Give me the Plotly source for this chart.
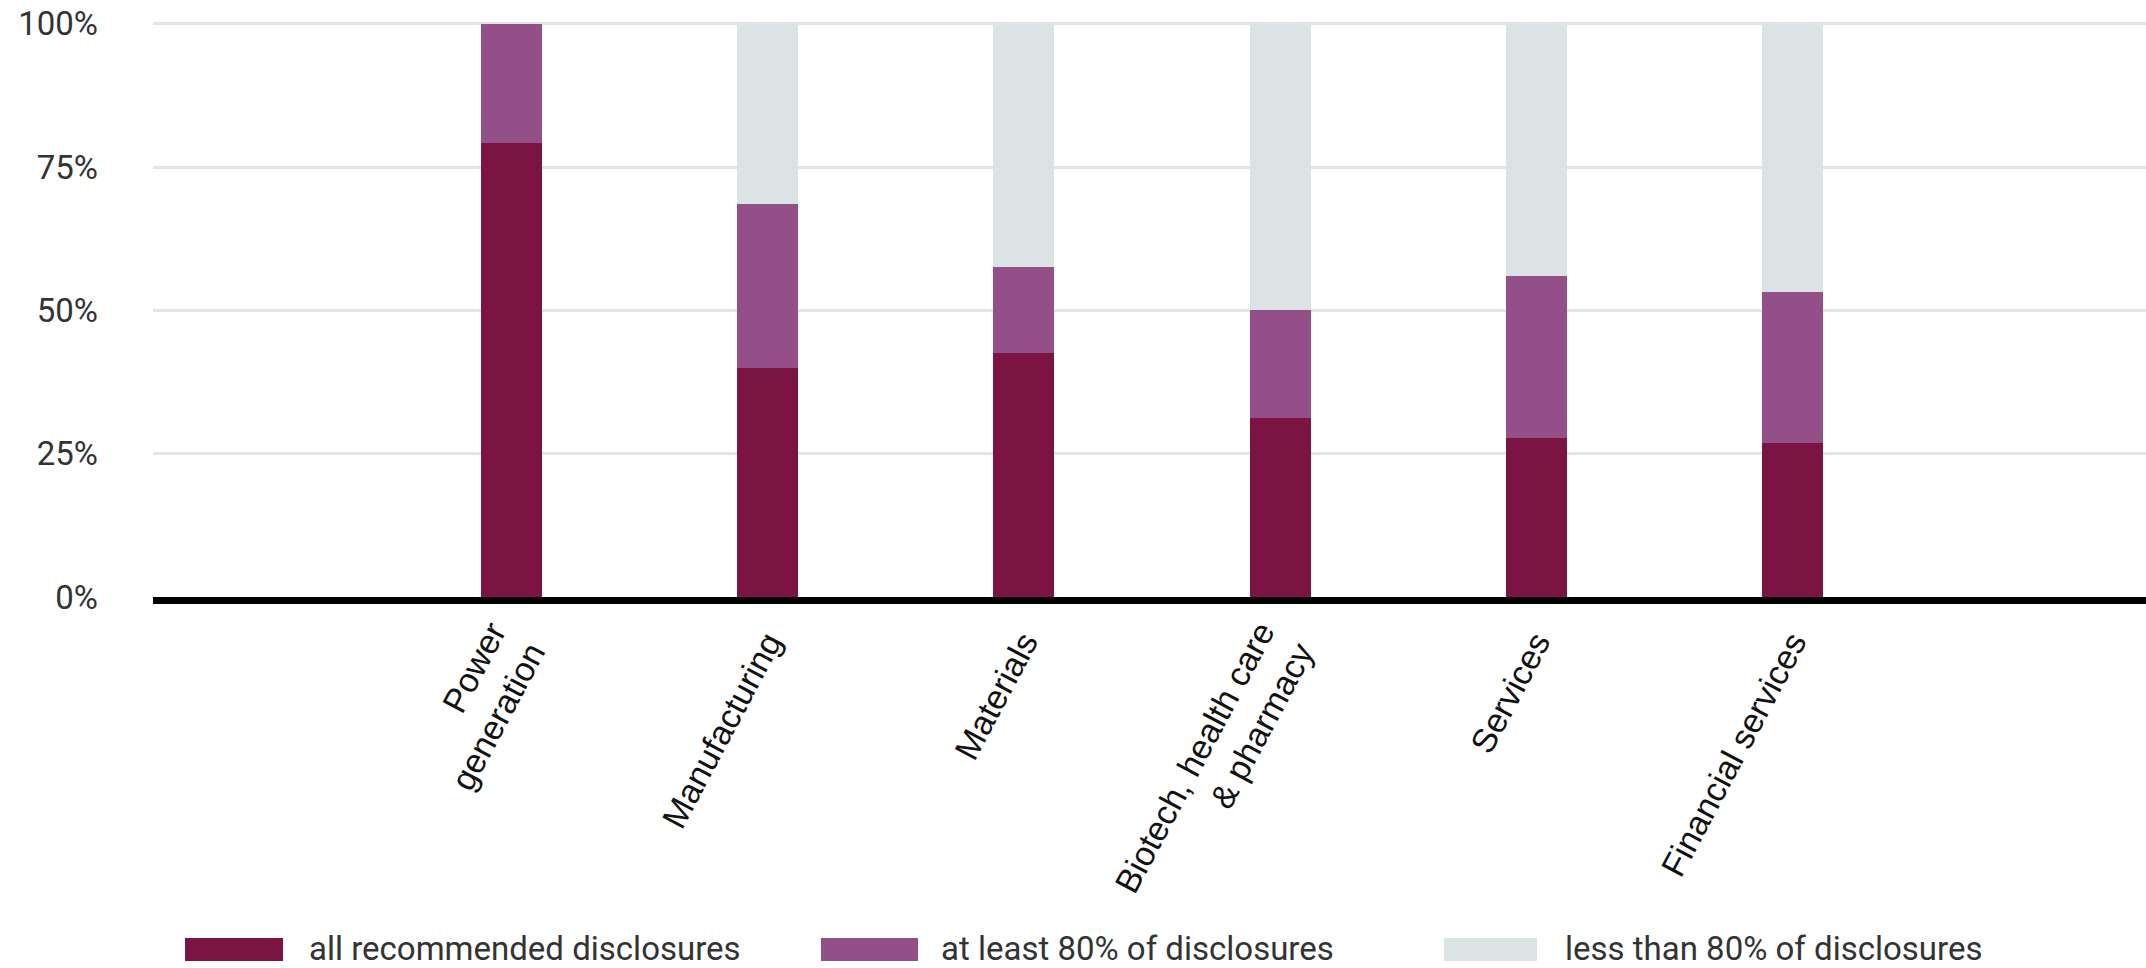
import plotly.graph_objects as go

categories = ["Power<br>generation", "Manufacturing", "Materials",
              "Biotech, health care<br>& pharmacy", "Services", "Financial services"]
all_recommended = [79.3, 39.9, 42.6, 31.2, 27.7, 26.8]
at_least_80 = [20.7, 28.7, 14.9, 18.8, 28.3, 26.4]
less_than_80 = [0.0, 31.4, 42.5, 50.0, 44.0, 46.8]
series_names = ["all recommended disclosures", "at least 80% of disclosures", "less than 80% of disclosures"]
colors = ["#7B1343", "#935088", "#DCE3E5"]
y_ticks = [0, 25, 50, 75, 100]
y_ticktext = ["0%", "25%", "50%", "75%", "100%"]

W, H = 2146, 968
L, R, T, B = 153, 0, 21, 371


def fx(px):
    return (px - L) / (W - L - R)


def fy(py):
    return (H - B - py) / (H - T - B)


fig = go.Figure()
for name, vals, col in zip(series_names, [all_recommended, at_least_80, less_than_80], colors):
    fig.add_trace(go.Bar(x=categories, y=vals, name=name, marker=dict(color=col, line=dict(width=0)),
                         width=0.238, showlegend=False))

# custom legend (wide swatches)
sw = [(185, 283), (821, 918), (1444, 1537)]
tx = [307, 939, 1563]
shapes = []
annotations = []
for (x0, x1), t, name, col in zip(sw, tx, series_names, colors):
    shapes.append(dict(type="rect", xref="paper", yref="paper", x0=fx(x0), x1=fx(x1),
                       y0=fy(961), y1=fy(938), fillcolor=col, line=dict(width=0), layer="above"))
    annotations.append(dict(xref="paper", yref="paper", x=fx(t), y=fy(948), text=name,
                            showarrow=False, xanchor="left", yanchor="middle",
                            font=dict(family="Roboto", size=33, color="#333333")))

fig.update_layout(
    width=W, height=H,
    margin=dict(l=L, r=R, t=T, b=B),
    barmode="stack",
    plot_bgcolor="white", paper_bgcolor="white",
    shapes=shapes, annotations=annotations,
    xaxis=dict(type="category", range=[-1.4, 6.38], showline=True, linecolor="black", linewidth=7,
               ticks="", tickangle=-62, showgrid=False,
               tickfont=dict(family="Liberation Sans", size=34, color="#111111"),
               ticklabelstandoff=5),
    yaxis=dict(range=[0, 100.5], tickvals=y_ticks, ticktext=y_ticktext, showgrid=True,
               gridcolor="#e4e4e4", gridwidth=2.5, zeroline=False, showline=False, ticks="",
               tickfont=dict(family="Roboto", size=33, color="#333333"), ticklabelstandoff=54),
)

fig.write_html("out.html", config={"displayModeBar": False},
               post_script="document.body.style.margin='0px';document.body.style.overflow='hidden';")
